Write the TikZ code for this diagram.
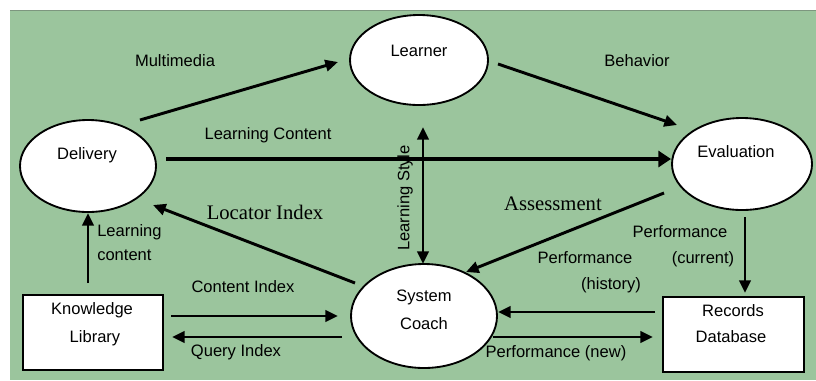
\documentclass[tikz,border=0pt]{standalone}
\usepackage{fontspec}
\setmainfont{Liberation Sans}
\newfontfamily\serifx{Liberation Serif}
\usetikzlibrary{shapes.geometric,arrows.meta,calc}
\definecolor{bggreen}{RGB}{155,197,157}
\definecolor{bgedge}{RGB}{125,150,127}
\tikzset{
  oval/.style={ellipse, draw=black, line width=1.4pt, fill=white, inner sep=0pt},
  box/.style={rectangle, draw=black, line width=1.4pt, fill=white, inner sep=0pt},
  txt/.style={inner sep=0pt, font=\fontsize{12.4}{14}\selectfont, text height=9pt, text depth=2.5pt},
  stxt/.style={inner sep=0pt, font=\fontsize{15.5}{18}\serifx, text height=11pt, text depth=3pt},
  arr/.style={line width=2.2pt, -{Triangle[length=9.5pt,width=8.5pt]}},
  darr/.style={line width=2.2pt, {Triangle[length=9.5pt,width=8.5pt]}-{Triangle[length=9.5pt,width=8.5pt]}},
  bigarr/.style={line width=3.6pt, -{Triangle[length=9.5pt,width=12pt]}}
}
\begin{document}
\begin{tikzpicture}[x=0.75pt,y=-0.75pt]
\useasboundingbox (0,0) rectangle (816,380);
\fill[white] (0,0) rectangle (816,380);
\fill[bggreen] (10,10) rectangle (816,380);
\draw[bgedge, line width=0.8pt] (10,10.3) -- (816,10.3);

% nodes
\node[oval, minimum width=138*0.75pt, minimum height=90*0.75pt] (learner) at (419,60) {};
\node[oval, minimum width=136*0.75pt, minimum height=92*0.75pt] (delivery) at (88,166) {};
\node[oval, minimum width=140*0.75pt, minimum height=92*0.75pt] (evaluation) at (742,164) {};
\node[oval, minimum width=146*0.75pt, minimum height=104*0.75pt] (coach) at (424,316) {};
\node[box, minimum width=140*0.75pt, minimum height=75*0.75pt] (library) at (93,332.5) {};
\node[box, minimum width=141*0.75pt, minimum height=75*0.75pt] (records) at (733.5,334.5) {};

% node texts
\node[txt] (tLearner) at (419,52) {Learner};
\node[txt] (tDelivery) at (87,155) {Delivery};
\node[txt] (tEval) at (736,153) {Evaluation};
\node[txt] (tSystem) at (424,297) {System};
\node[txt] (tCoach) at (424,325) {Coach};
\node[txt] (tKnow) at (92,310) {Knowledge};
\node[txt] (tLib) at (95,338) {Library};
\node[txt] (tRec) at (733,312) {Records};
\node[txt] (tDb) at (731,338) {Database};

% connectors
\draw[arr] ($(delivery)+(52,-46)$) -- ($(learner)+(-81,2)$);
\draw[arr] ($(learner)+(79,4)$) -- ($(evaluation)+(-65,-39)$);
\draw[bigarr] ($(delivery)+(78,-7)$) -- ($(evaluation)+(-71,-5)$);
\draw[darr] ($(learner)+(4,67)$) -- ($(coach)+(-1,-52)$);
\draw[arr] ($(evaluation)+(-78,29)$) -- ($(coach)+(42,-44)$);
\draw[arr] ($(coach)+(-69,-33)$) -- ($(delivery)+(65,39)$);
\draw[arr] ($(library)+(-5,-49.5)$) -- ($(delivery)+(0,47)$);
\draw[arr] ($(library)+(78,-16.5)$) -- ($(coach)+(-86,0)$);
\draw[arr] ($(coach)+(-82,21)$) -- ($(library)+(79,4.5)$);
\draw[arr] ($(evaluation)+(3,53)$) -- ($(records)+(11.5,-41.5)$);
\draw[arr] ($(records)+(-78.5,-22.5)$) -- ($(coach)+(74,-4)$);
\draw[arr] ($(coach)+(69,21)$) -- ($(records)+(-80.5,2.5)$);

% labels
\node[txt] (lMulti) at (175,62) {Multimedia};
\node[txt] (lBeh) at (637,62) {Behavior};
\node[txt] (lLC) at (268,135) {Learning Content};
\node[txt, rotate=90] (lLS) at (405,198) {Learning Style};
\node[stxt] (lAss) at (553,205) {Assessment};
\node[stxt] (lLoc) at (265,214) {Locator Index};
\node[txt, anchor=west] (lLc1) at (97,232) {Learning};
\node[txt, anchor=west] (lLc2) at (97,256) {content};
\node[txt] (lCI) at (243,288) {Content Index};
\node[txt] (lQI) at (236,352) {Query Index};
\node[txt] (lPc1) at (680,233) {Performance};
\node[txt] (lPc2) at (703,259) {(current)};
\node[txt] (lPh1) at (585,259) {Performance};
\node[txt] (lPh2) at (611,285) {(history)};
\node[txt] (lPn) at (556,353) {Performance (new)};
\end{tikzpicture}
\end{document}
